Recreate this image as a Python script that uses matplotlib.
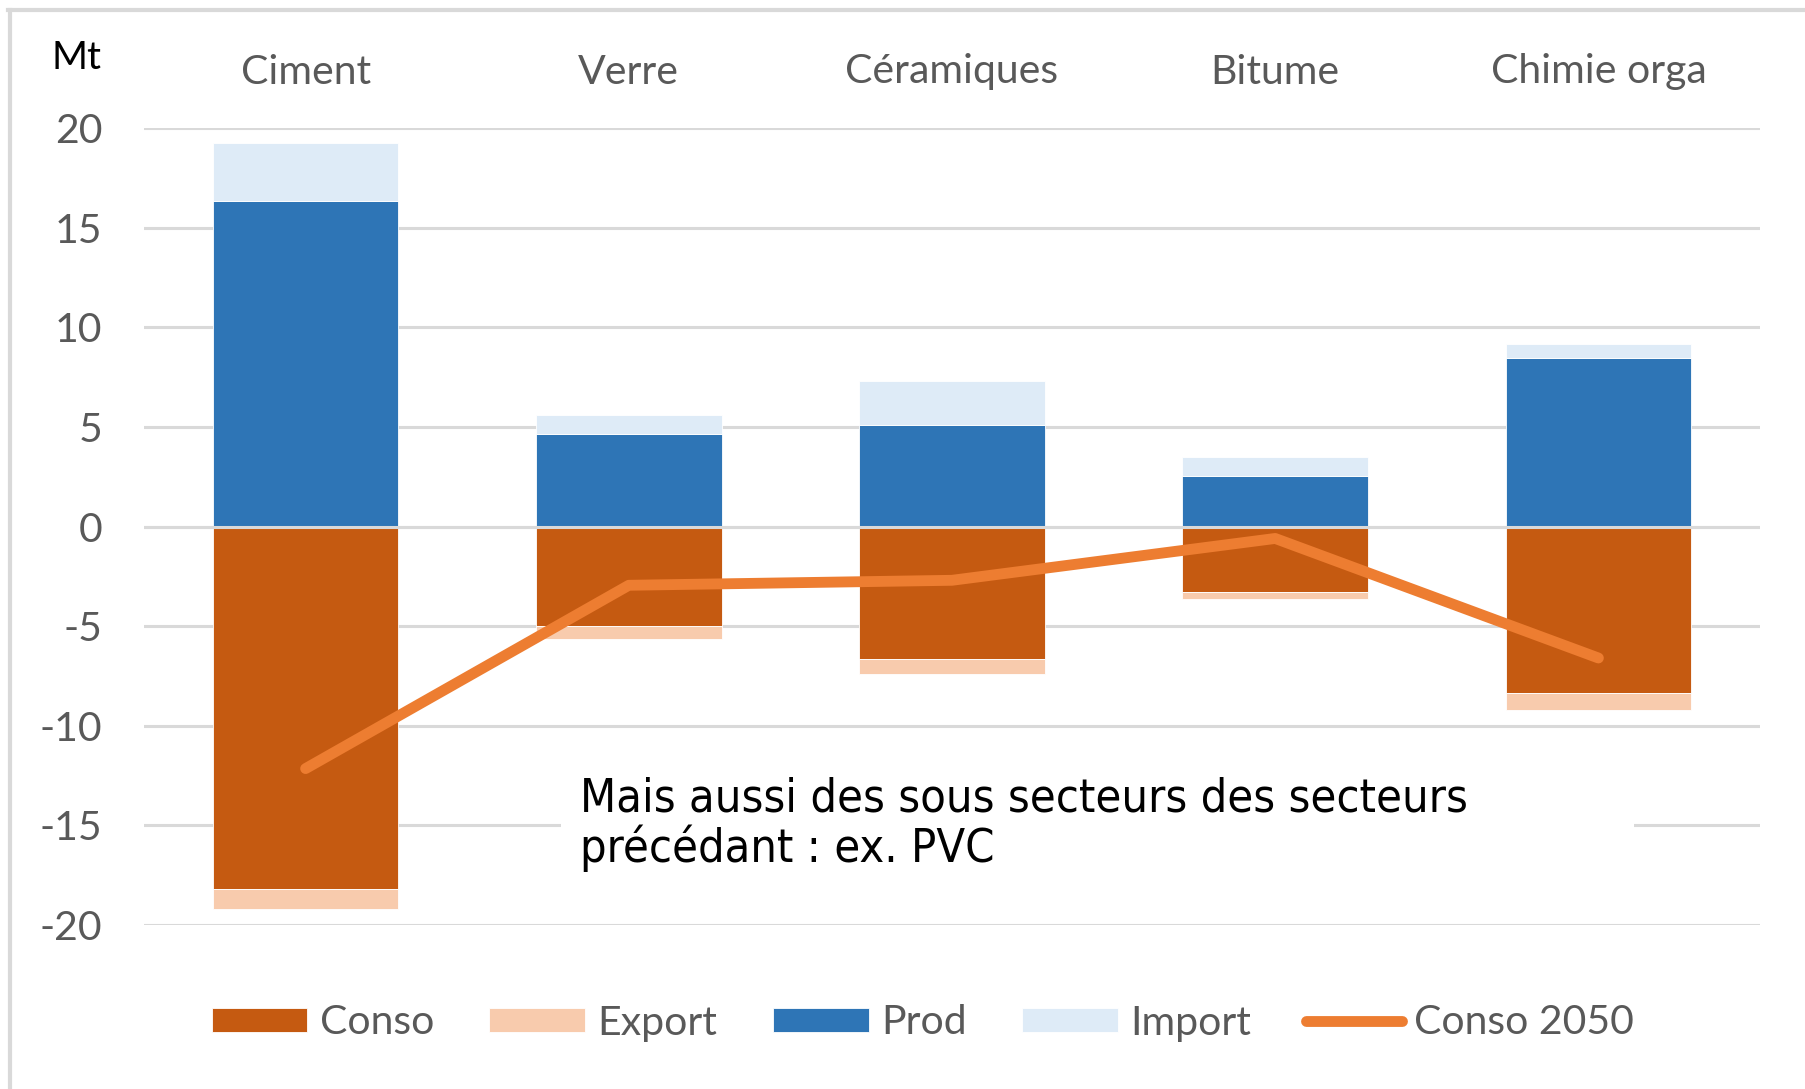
import matplotlib
matplotlib.use("Agg")
import matplotlib.pyplot as plt
from matplotlib.lines import Line2D
from matplotlib.patches import Rectangle
import numpy as np

categories = ["Ciment", "Verre", "Céramiques", "Bitume", "Chimie orga"]
conso = [-18.2, -5.0, -6.65, -3.3, -8.36]
export = [-1.0, -0.65, -0.75, -0.35, -0.85]
prod = [16.35, 4.65, 5.1, 2.53, 8.46]
imports = [2.9, 0.95, 2.2, 0.95, 0.72]
conso_2050 = [-12.15, -2.95, -2.7, -0.6, -6.6]
yticks = [-20, -15, -10, -5, 0, 5, 10, 15, 20]

C_CONSO = "#C55A11"
C_EXPORT = "#F8CBAD"
C_PROD = "#2E75B6"
C_IMPORT = "#DEEBF7"
C_LINE = "#ED7D31"
GRID = "#D9D9D9"
TXT = "#595959"

plt.rcParams['font.family'] = ['Lato', 'DejaVu Sans']
FS = 29.5

W, H = 1806, 1089
fig = plt.figure(figsize=(W / 100, H / 100), dpi=100)
ax = fig.add_axes([144 / W, 1 - 925 / H, (1760 - 144) / W, (925 - 128) / H])

x = np.arange(len(categories))
bw = 0.574
ax.bar(x, conso, bw, color=C_CONSO, edgecolor="white", linewidth=0.6, zorder=2, label="Conso")
ax.bar(x, export, bw, bottom=conso, color=C_EXPORT, edgecolor="white", linewidth=0.6, zorder=2, label="Export")
ax.bar(x, prod, bw, color=C_PROD, edgecolor="white", linewidth=0.6, zorder=2, label="Prod")
ax.bar(x, imports, bw, bottom=prod, color=C_IMPORT, edgecolor="white", linewidth=0.6, zorder=2, label="Import")
ax.axhline(0, color=GRID, lw=2.2, zorder=2.5)
ax.plot(x, conso_2050, color=C_LINE, lw=7.8, solid_capstyle="round", solid_joinstyle="round",
        zorder=3, label="Conso 2050")

ax.set_xlim(-0.5, len(categories) - 0.5)
ax.set_ylim(-20, 20)
ax.set_yticks(yticks)
ax.set_yticklabels([str(v) for v in yticks])
ax.yaxis.grid(True, color=GRID, lw=2.2, zorder=0)
ax.set_axisbelow(True)
for s in ax.spines.values():
    s.set_visible(False)
ax.tick_params(axis="y", length=0, pad=30, labelsize=FS, labelcolor=TXT)
ax.xaxis.tick_top()
ax.set_xticks(x)
ax.set_xticklabels(categories)
ax.tick_params(axis="x", length=0, pad=27, labelsize=FS, labelcolor=TXT)

# annotation box
ax.add_patch(Rectangle((0.79, -18.2), 3.32, 6.4, facecolor="white", edgecolor="none", zorder=4))
ax.text(0.85, -14.95, "Mais aussi des sous secteurs des secteurs\nprécédant : ex. PVC",
        ha="left", va="center", fontsize=33.7, color="black", linespacing=1.08, zorder=5,
        family="DejaVu Sans", stretch="condensed")

fig.text(52 / W, 1 - 58 / H, "Mt", ha="left", va="center", fontsize=28, color="black")

handles, labels = ax.get_legend_handles_labels()
order = [labels.index(l) for l in ["Conso", "Export", "Prod", "Import", "Conso 2050"]]
leg = fig.legend([handles[i] for i in order], [labels[i] for i in order],
                 loc="center", bbox_to_anchor=(0.511, 1 - 1023 / H), ncol=5, frameon=False,
                 fontsize=FS, handlelength=2.34, handleheight=0.56, handletextpad=0.3,
                 columnspacing=1.35, labelcolor=TXT)

# outer frame (top and left edges)
fig.add_artist(Line2D([8 / W, 1], [1 - 10 / H, 1 - 10 / H], color=GRID, lw=3))
fig.add_artist(Line2D([10 / W, 10 / W], [0, 1 - 10 / H], color=GRID, lw=3))

fig.savefig("out.png", dpi=100, facecolor="white")
